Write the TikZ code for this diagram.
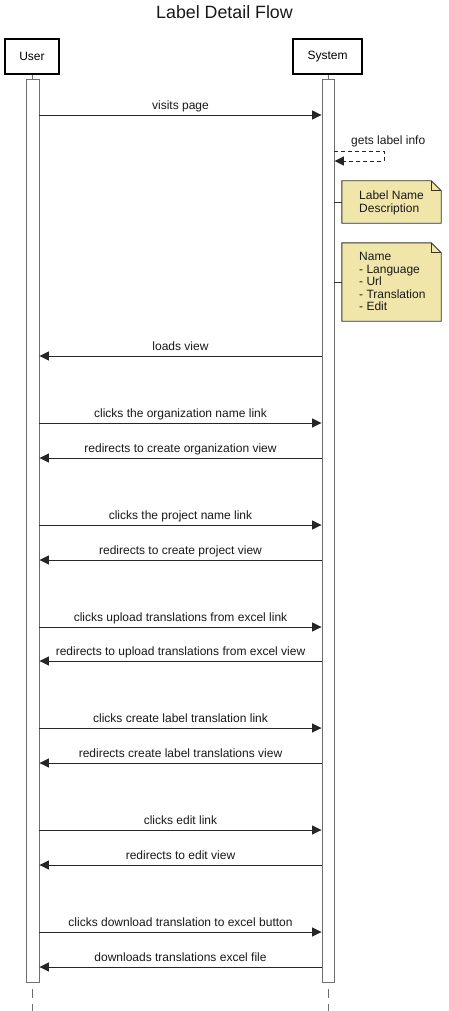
\documentclass[tikz,border=0pt]{standalone}
\usepackage{fontspec}
\setmainfont{Liberation Sans}
\usetikzlibrary{arrows.meta,calc}
\definecolor{notefill}{HTML}{F0E6AA}
\definecolor{barline}{HTML}{6E6E6E}
\begin{document}
\begin{tikzpicture}[x=1pt,y=-1pt,
  msgfont/.style={font=\fontsize{12}{12.5}\selectfont},
  actor/.style={draw=black,line width=1.8pt,fill=white,minimum width=54pt,minimum height=35pt,inner sep=0pt,msgfont},
  bar/.style={draw=barline,line width=0.9pt,fill=white},
  lifeline/.style={draw=barline,line width=0.9pt,dash pattern=on 9pt off 6pt},
  msg/.style={draw=black!85,line width=0.9pt,-{Triangle[length=9.5pt,width=9pt]}},
  retmsg/.style={msg,dash pattern=on 4pt off 3pt},
  msglabel/.style={msgfont,anchor=base,inner sep=0pt,text=black!90},
  notebox/.style={draw=black!80,line width=0.9pt,fill=notefill},
  notetext/.style={msgfont,align=left,anchor=north west,inner sep=0pt,text=black!90}]
\useasboundingbox (0,0) rectangle (448,1011);
\fill[white] (0,0) rectangle (448,1011);
% title
\node[font=\fontsize{17.8}{20}\selectfont,anchor=base,inner sep=0pt,text=black!90] (title) at (224.5,18.5) {Label Detail Flow};
% lifelines
\draw[lifeline] (32.5,74) -- (32.5,1011);
\draw[lifeline] (328,74) -- (328,1011);
% actors
\node[actor] (user) at (32,56.5) {User};
\node[actor,minimum width=69pt] (system) at (327.5,56.5) {System};
% activation bars
\node[bar,minimum width=13pt,minimum height=903pt,inner sep=0pt] (ubar) at (32.5,530.5) {};
\node[bar,minimum width=12pt,minimum height=903pt,inner sep=0pt] (sbar) at (328,530.5) {};
% messages
\foreach \y/\t/\d in {
  115/visits page/r,
  356/loads view/l,
  423/clicks the organization name link/r,
  458/redirects to create organization view/l,
  525/clicks the project name link/r,
  560/redirects to create project view/l,
  627/clicks upload translations from excel link/r,
  661/redirects to upload translations from excel view/l,
  728/clicks create label translation link/r,
  763/redirects create label translations view/l,
  830/clicks edit link/r,
  865/redirects to edit view/l,
  932/clicks download translation to excel button/r,
  967/downloads translations excel file/l}{
  \coordinate (u\y) at (ubar.east |- 0,\y);
  \coordinate (s\y) at (sbar.west |- 0,\y);
  \if r\d
    \draw[msg] (u\y) -- (s\y);
  \else
    \draw[msg] (s\y) -- (u\y);
  \fi
  \node[msglabel] (lab\y) at ($(u\y)!0.5!(s\y)+(0,-5.5)$) {\t};
}
% self message
\coordinate (selfa) at (sbar.east |- 0,151);
\coordinate (selfb) at (sbar.east |- 0,161);
\draw[retmsg] (selfa) -- ++(50,0) |- (selfb);
\node[msgfont,anchor=base west,inner sep=0pt,text=black!90] (selflab) at (351,145) {gets label info};
% note 1
\node[minimum width=99pt,minimum height=42pt,inner sep=0pt] (note1) at (391.5,202) {};
\draw[notebox] (note1.north west) -- ([xshift=-10pt]note1.north east) -- ([yshift=-10pt]note1.north east) -- (note1.south east) -- (note1.south west) -- cycle;
\draw[draw=black!80,line width=0.9pt] ([xshift=-10pt]note1.north east) -- ([xshift=-10pt,yshift=-10pt]note1.north east) -- ([yshift=-10pt]note1.north east);
\node[notetext] (note1txt) at (359,191) {Label Name\\Description};
\draw[draw=black!80,line width=0.9pt] (sbar.east |- note1.west) -- (note1.west);
% note 2
\node[minimum width=99pt,minimum height=78pt,inner sep=0pt] (note2) at (391.5,282) {};
\draw[notebox] (note2.north west) -- ([xshift=-10pt]note2.north east) -- ([yshift=-10pt]note2.north east) -- (note2.south east) -- (note2.south west) -- cycle;
\draw[draw=black!80,line width=0.9pt] ([xshift=-10pt]note2.north east) -- ([xshift=-10pt,yshift=-10pt]note2.north east) -- ([yshift=-10pt]note2.north east);
\node[notetext] (note2txt) at (359,252.5) {Name\\- Language\\- Url\\- Translation\\- Edit};
\draw[draw=black!80,line width=0.9pt] (sbar.east |- note2.west) -- (note2.west);
\end{tikzpicture}
\end{document}
